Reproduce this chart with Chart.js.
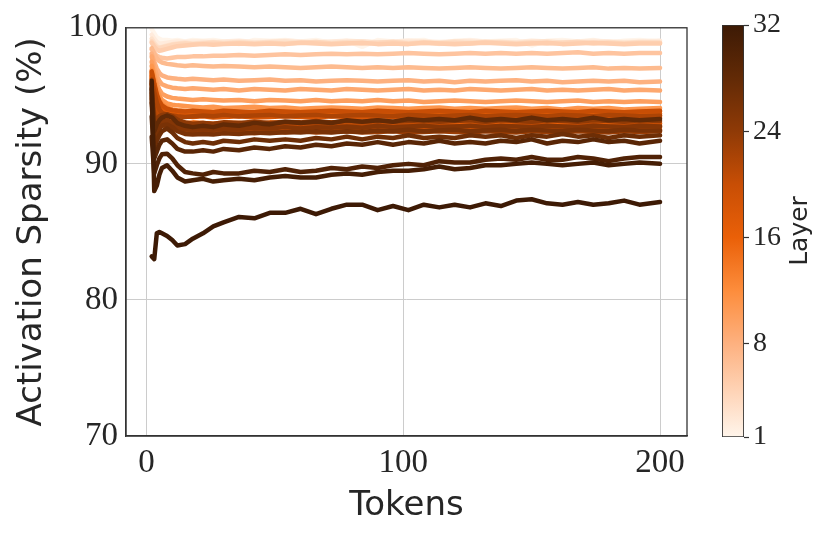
<!DOCTYPE html>
<html>
<head>
<meta charset="utf-8">
<script src="https://cdn.jsdelivr.net/npm/chart.js@4.4.1/dist/chart.umd.min.js"></script>
<style>
  html, body { margin: 0; padding: 0; background: #fff; }
  #wrap { position: relative; width: 830px; height: 541px; }
  #main { position: absolute; left: 0; top: 0; }
  #cbar { position: absolute; left: 690px; top: 0; }
</style>
</head>
<body>
<div id="wrap">
  <canvas id="main" width="830" height="541"></canvas>
  <canvas id="cbar" width="140" height="541"></canvas>
</div>
<script>
const tokens = [2,3,4,5,6,8,10,12,15,18,22,26,30,36,42,48,54,60,66,72,78,84,90,96,102,108,114,120,126,132,138,144,150,156,162,168,174,180,186,192,200];

// activation sparsity (%) per layer
const L1 = [99.9,99.6,99.3,99.2,99.1,99.1,99.05,99.1,99.0,99.1, 99.05,99.1,99.0,98.8,99.1,99.05,99.1,99.0,99.1,98.9, 99.05,98.6,99.1,99.0,99.05,99.1,98.8,99.05,99.1,99.0, 99.05,99.1,98.7,99.05,99.1,99.0,99.1,98.9,99.05,99.1, 99.0];
const L2 = [99.5,99.2,98.95,98.85,98.85,98.9,98.95,99.0,98.95,99.0, 99.0,98.95,99.0,99.05,98.95,99.0,99.05,99.0,98.95,99.0, 99.05,99.0,98.95,99.0,99.05,99.0,98.95,99.0,99.05,99.0, 99.0,98.95,99.05,99.0,98.95,99.0,99.05,99.0,98.95,99.0, 99.05];
const L3 = [99.2,98.9,98.65,98.55,98.6,98.7,98.8,98.85,98.9,98.85, 98.9,98.95,98.9,98.95,98.9,98.95,99.0,98.9,98.95,98.9, 98.95,99.0,98.9,98.95,98.9,98.95,98.9,99.0,98.95,98.9, 98.95,98.9,98.95,99.0,98.9,98.95,98.9,98.95,98.9,98.95, 98.9];
const L4 = [99.0,98.75,98.55,98.5,98.55,98.65,98.75,98.8,98.85,98.8, 98.85,98.9,98.85,98.9,98.85,98.9,98.85,98.9,98.95,98.85, 98.9,98.85,98.9,98.95,98.85,98.9,98.85,98.9,98.85,98.95, 98.9,98.85,98.9,98.85,98.9,98.95,98.85,98.9,98.85,98.9, 98.9];
const L5 = [98.9,98.6,98.4,98.3,98.35,98.45,98.55,98.65,98.7,98.75, 98.8,98.75,98.8,98.85,98.8,98.85,98.8,98.9,98.85,98.8, 98.85,98.9,98.8,98.85,98.8,98.9,98.85,98.8,98.85,98.9, 98.85,98.8,98.85,98.9,98.8,98.85,98.9,98.85,98.8,98.85, 98.85];
const L6 = [98.4,98.15,97.95,97.85,97.8,97.75,97.8,97.85,97.85,97.9, 97.9,97.95,97.95,98.0,97.95,98.0,98.05,98.0,98.05,98.1, 98.05,98.1,98.05,98.1,98.15,98.1,98.05,98.1,98.15,98.1, 98.15,98.1,98.15,98.1,98.15,98.2,98.1,98.15,98.1,98.15, 98.15];
const L7 = [98.5,98.1,97.75,97.55,97.45,97.35,97.3,97.25,97.2,97.25, 97.2,97.15,97.2,97.15,97.1,97.15,97.1,97.05,97.1,97.15, 97.1,97.05,97.1,97.05,97.1,97.05,97.0,97.05,97.1,97.05, 97.0,97.05,97.1,97.05,97.0,97.05,97.1,97.0,97.05,97.0, 97.05];
const L8 = [98.1,97.5,97.0,96.7,96.5,96.35,96.3,96.25,96.2,96.25, 96.2,96.15,96.2,96.1,96.15,96.2,96.1,96.15,96.05,96.1, 96.15,96.1,96.05,96.1,96.15,96.05,96.1,96.0,96.1,96.05, 96.1,96.15,96.05,96.1,96.0,96.05,96.1,96.05,96.1,96.0, 96.05];
const L9 = [97.9,97.1,96.5,96.1,95.85,95.7,95.6,95.55,95.5,95.55, 95.5,95.45,95.5,95.4,95.5,95.45,95.4,95.5,95.45,95.4, 95.5,95.45,95.4,95.45,95.5,95.4,95.45,95.4,95.5,95.45, 95.4,95.45,95.5,95.4,95.45,95.4,95.45,95.5,95.4,95.45, 95.4];
const L10 = [97.5,96.6,95.9,95.45,95.15,94.95,94.85,94.8,94.75,94.7, 94.75,94.7,94.65,94.7,94.6,94.7,94.65,94.6,94.7,94.6, 94.65,94.6,94.7,94.6,94.65,94.55,94.6,94.65,94.6,94.55, 94.6,94.65,94.6,94.55,94.6,94.65,94.55,94.6,94.55,94.6, 94.55];
const L11 = [97.2,96.3,95.5,95.0,94.7,94.45,94.35,94.3,94.25,94.2, 94.15,94.2,94.1,94.15,94.2,94.1,94.15,94.05,94.1,94.15, 94.1,94.05,94.15,94.1,94.05,94.1,94.15,94.05,94.1,94.05, 94.1,94.15,94.05,94.1,94.0,94.1,94.05,94.1,94.0,94.05, 94.1];
const L12 = [96.9,96.0,95.2,94.7,94.4,94.15,94.0,93.95,93.9,93.85, 93.9,93.85,93.9,93.8,93.85,93.9,93.8,93.85,93.9,93.85, 93.8,93.9,93.85,93.8,93.9,93.85,93.8,93.85,93.9,93.8, 93.85,93.9,93.85,93.8,93.85,93.9,93.8,93.85,93.8,93.9, 93.85];
const L13 = [96.6,95.7,94.9,94.4,94.1,93.85,93.75,93.7,93.6,93.65, 93.6,93.55,93.65,93.6,93.55,93.6,93.65,93.55,93.6,93.65, 93.6,93.55,93.6,93.65,93.6,93.55,93.6,93.65,93.55,93.6, 93.6,93.55,93.65,93.6,93.55,93.6,93.65,93.6,93.55,93.6, 93.6];
const L14 = [96.3,95.3,94.4,93.9,93.55,93.3,93.15,93.1,93.0,93.05, 93.0,92.95,93.05,93.0,92.95,93.05,93.0,92.95,93.0,93.05, 92.95,93.0,93.05,93.0,92.95,93.0,93.05,92.95,93.0,93.05, 93.0,92.95,93.0,93.05,93.0,92.95,93.0,93.05,92.95,93.0, 93.0];
const L15 = [96.0,95.0,94.1,93.6,93.2,92.95,92.85,92.8,92.7,92.75, 92.7,92.65,92.75,92.7,92.65,92.7,92.75,92.65,92.7,92.75, 92.7,92.65,92.7,92.75,92.7,92.65,92.7,92.75,92.65,92.7, 92.75,92.7,92.65,92.7,92.75,92.7,92.65,92.7,92.75,92.7, 92.7];
const L16 = [96.4,95.4,94.5,94.0,93.6,93.3,93.15,93.05,93.0,92.95, 93.0,92.9,92.95,93.0,92.9,92.95,93.0,92.95,92.9,93.0, 92.95,92.9,92.95,93.0,92.95,92.9,93.0,92.95,92.9,92.95, 93.0,92.9,92.95,93.0,92.95,92.9,92.95,93.0,92.9,92.95, 92.95];
const L17 = [96.7,95.8,95.0,94.5,94.2,93.95,93.85,93.8,93.75,93.7, 93.75,93.7,93.65,93.75,93.7,93.65,93.7,93.75,93.7,93.65, 93.7,93.75,93.7,93.65,93.7,93.75,93.65,93.7,93.75,93.7, 93.65,93.7,93.75,93.7,93.65,93.7,93.75,93.7,93.65,93.7, 93.7];
const L18 = [96.5,95.6,94.8,94.3,93.95,93.7,93.6,93.55,93.5,93.45, 93.5,93.4,93.45,93.5,93.4,93.45,93.5,93.45,93.4,93.5, 93.45,93.4,93.5,93.45,93.4,93.45,93.5,93.4,93.45,93.5, 93.45,93.4,93.45,93.5,93.4,93.45,93.5,93.45,93.4,93.45, 93.45];
const L19 = [95.8,94.8,93.9,93.4,93.0,92.75,92.6,92.55,92.5,92.45, 92.5,92.45,92.55,92.5,92.45,92.5,92.55,92.45,92.5,92.55, 92.5,92.45,92.5,92.55,92.5,92.45,92.5,92.55,92.45,92.5, 92.55,92.5,92.45,92.5,92.55,92.5,92.45,92.5,92.55,92.5, 92.5];
const L20 = [96.8,95.9,95.1,94.6,94.3,94.05,93.95,93.9,93.85,93.9, 93.85,93.8,93.9,93.85,93.8,93.9,93.85,93.8,93.85,93.9, 93.85,93.8,93.9,93.85,93.8,93.85,93.9,93.85,93.8,93.9, 93.85,93.8,93.85,93.9,93.85,93.8,93.9,93.85,93.8,93.85, 93.9];
const L21 = [95.9,94.9,94.0,93.5,93.15,92.95,92.85,92.8,92.75,92.8, 92.75,92.8,92.85,92.75,92.8,92.85,92.75,92.8,92.85,92.8, 92.75,92.8,92.85,92.75,92.8,92.85,92.8,92.75,92.8,92.85, 92.75,92.8,92.85,92.8,92.75,92.8,92.85,92.75,92.8,92.85, 92.8];
const L22 = [96.2,95.3,94.5,94.0,93.75,93.6,93.55,93.5,93.45,93.5, 93.55,93.5,93.6,93.5,93.55,93.6,93.5,93.55,93.6,93.5, 93.55,93.6,93.55,93.5,93.6,93.55,93.5,93.55,93.6,93.5, 93.55,93.6,93.55,93.5,93.6,93.55,93.5,93.6,93.55,93.5, 93.55];
const L23 = [95.2,93.6,93.2,93.0,92.85,92.75,92.6,92.45,92.3,92.25, 92.3,92.25,92.35,92.3,92.25,92.35,92.3,92.4,92.3,92.35, 92.4,92.3,92.35,92.4,92.3,92.35,92.4,92.35,92.3,92.4, 92.35,92.3,92.4,92.35,92.3,92.4,92.35,92.3,92.4,92.35, 92.4];
const L24 = [95.6,93.0,93.3,93.5,93.6,93.65,93.5,93.25,93.05,92.95, 93.0,92.95,93.05,93.0,93.1,93.0,93.1,93.05,93.15,93.05, 93.15,93.1,93.2,93.1,93.15,93.2,93.1,93.15,93.2,93.1, 93.2,93.15,93.1,93.2,93.15,93.1,93.2,93.15,93.1,93.2, 93.15];
const L25 = [95.0,92.2,92.6,92.9,93.1,93.2,93.0,92.75,92.55,92.5, 92.55,92.5,92.6,92.55,92.65,92.6,92.7,92.6,92.7,92.65, 92.75,92.65,92.8,92.7,92.75,92.8,92.7,92.75,92.8,92.7, 92.8,92.75,92.7,92.8,92.75,92.7,92.8,92.75,92.7,92.8, 92.75];
const L26 = [94.8,91.8,92.2,92.6,92.8,92.9,92.7,92.4,92.2,92.15, 92.2,92.15,92.25,92.2,92.3,92.25,92.35,92.3,92.4,92.3, 92.4,92.35,92.45,92.4,92.5,92.4,92.45,92.5,92.4,92.45, 92.5,92.4,92.5,92.45,92.4,92.5,92.45,92.4,92.5,92.45, 92.45];
const L27 = [94.5,91.2,91.7,92.1,92.4,92.6,92.3,91.9,91.6,91.5, 91.6,91.5,91.7,91.6,91.8,91.7,91.8,91.7,91.9,91.8, 92.0,91.8,92.0,91.9,92.1,91.9,92.0,91.9,92.1,92.0, 92.1,91.9,92.1,92.0,92.2,92.0,92.1,91.9,92.1,92.0, 92.1];
const L28 = [95.5,92.4,92.9,93.2,93.4,93.55,93.4,93.0,92.8,92.7, 92.8,92.7,92.9,92.8,93.0,92.9,93.1,93.0,93.1,93.0, 93.2,93.1,93.2,93.1,93.3,93.2,93.3,93.2,93.4,93.2, 93.3,93.2,93.4,93.2,93.3,93.2,93.4,93.2,93.3,93.2, 93.3];
const L29 = [93.5,90.4,90.9,91.4,91.7,91.8,91.5,91.1,90.9,90.9, 91.0,90.9,91.1,91.0,91.2,91.1,91.3,91.2,91.4,91.3, 91.5,91.4,91.6,91.4,91.6,91.5,91.7,91.5,91.6,91.5, 91.7,91.6,91.8,91.5,91.7,91.6,91.8,91.6,91.7,91.5, 91.7];
const L30 = [92.0,89.3,89.9,90.4,90.7,90.75,90.4,89.9,89.4,89.3, 89.2,89.4,89.3,89.3,89.5,89.4,89.6,89.4,89.5,89.7, 89.6,89.8,89.7,89.9,90.0,89.9,90.2,90.1,90.1,90.3, 90.4,90.3,90.5,90.3,90.3,90.5,90.4,90.2,90.4,90.5, 90.5];
const L31 = [96.1,88.0,88.4,89.2,89.7,89.9,89.5,89.0,88.7,88.8, 88.9,88.7,88.8,88.9,88.8,89.0,89.1,89.0,89.0,89.2, 89.3,89.2,89.4,89.5,89.5,89.6,89.8,89.6,89.7,89.9, 89.9,90.0,90.1,90.0,89.9,90.0,90.1,89.9,90.0,90.1, 90.0];
const L32 = [83.2,83.0,84.9,85.0,84.9,84.7,84.4,84.0,84.1,84.5, 84.9,85.4,85.7,86.1,86.0,86.4,86.4,86.7,86.3,86.7, 87.0,87.0,86.6,86.9,86.6,87.0,86.8,87.0,86.8,87.1, 86.9,87.3,87.4,87.1,87.0,87.2,87.0,87.1,87.3,87.0, 87.2];

const layers = [L1,L2,L3,L4,L5,L6,L7,L8,L9,L10,L11,L12,L13,L14,L15,L16,L17,L18,L19,L20,L21,L22,L23,L24,L25,L26,L27,L28,L29,L30,L31,L32];

const xTicks = [0, 100, 200];
const yTicks = [70, 80, 90, 100];
const layerTicks = [1, 8, 16, 24, 32];

// colormap (light -> orange -> dark brown)
const cmapStops = [
  [0.0,   [255,245,235]],
  [0.226, [253,177,128]],
  [0.355, [253,141,60]],
  [0.484, [234,96,8]],
  [0.613, [200,78,5]],
  [0.742, [143,58,6]],
  [0.871, [98,42,6]],
  [1.0,   [61,26,5]]
];
const cmap = (t) => {
  for (let i = 1; i < cmapStops.length; i++) {
    const [t1, c1] = cmapStops[i];
    const [t0, c0] = cmapStops[i - 1];
    if (t <= t1) {
      const f = (t - t0) / (t1 - t0);
      const c = c0.map((v, k) => Math.round(v + (c1[k] - v) * f));
      return `rgb(${c[0]},${c[1]},${c[2]})`;
    }
  }
  return 'rgb(61,26,5)';
};

const textColor = '#262626';
const serif = "'Liberation Serif', 'DejaVu Serif', serif";
const sans = "'DejaVu Sans', sans-serif";

//top and right spines
const frame = {
  id: 'frame',
  afterDraw(chart) {
    const {ctx, chartArea: a} = chart;
    ctx.save();
    ctx.strokeStyle = '#333';
    ctx.lineWidth = 1.3;
    ctx.strokeRect(a.left, a.top, a.right - a.left, a.bottom - a.top);
    ctx.restore();
  }
};

const datasets = layers.map((vals, i) => ({
  label: 'Layer ' + (i + 1),
  data: vals.map((v, j) => ({x: tokens[j], y: v})),
  borderColor: cmap(i / 31),
  borderWidth: 4.5,
  pointRadius: 0,
  tension: 0,
  borderJoinStyle: 'round',
  borderCapStyle: 'round',
  order: 32 - i
}));

new Chart(document.getElementById('main'), {
  type: 'line',
  data: { datasets },
  options: {
    responsive: false,
    animation: false,
    layout: { padding: { top: 25, right: 143, bottom: 0, left: 0 } },
    plugins: { legend: { display: false }, tooltip: { enabled: false } },
    scales: {
      x: {
        type: 'linear', min: -8, max: 210.5,
        afterBuildTicks: (s) => { s.ticks = xTicks.map(v => ({value: v})); },
        afterFit: (s) => { s.height = 105; },
        grid: { color: '#cccccc', lineWidth: 1, drawTicks: false },
        border: { display: true, color: '#333', width: 1.3 },
        ticks: { color: textColor, font: { family: serif, size: 33 }, padding: 8, maxRotation: 0 },
        title: { display: true, text: 'Tokens', color: textColor, font: { family: sans, size: 34 }, padding: { top: 0, bottom: 14 } }
      },
      y: {
        type: 'linear', min: 70, max: 100,
        afterBuildTicks: (s) => { s.ticks = yTicks.map(v => ({value: v})); },
        afterFit: (s) => { s.width = 126; },
        grid: { color: '#cccccc', lineWidth: 1, drawTicks: false },
        border: { display: true, color: '#333', width: 1.3 },
        ticks: { color: textColor, font: { family: serif, size: 33 }, padding: 8 },
        title: { display: true, text: 'Activation Sparsity (%)', color: textColor, font: { family: sans, size: 34 }, padding: { top: 12, bottom: 0 } }
      }
    }
  },
  plugins: [frame]
});

// colorbar
const layerTitle = {
  id: 'layerTitle',
  afterDraw(chart) {
    const {ctx, chartArea: a} = chart;
    ctx.save();
    ctx.translate(110, (a.top + a.bottom) / 2);
    ctx.rotate(-Math.PI / 2);
    ctx.fillStyle = textColor;
    ctx.font = "25px " + sans;
    ctx.textAlign = 'center';
    ctx.textBaseline = 'middle';
    ctx.fillText('Layer', 0, 0);
    ctx.restore();
  }
};

new Chart(document.getElementById('cbar'), {
  type: 'bar',
  data: {
    labels: ['Layer'],
    datasets: [{
      data: [[1, 32]],
      backgroundColor: (c) => {
        const a = c.chart.chartArea;
        if (!a) return '#e6550d';
        const g = c.chart.ctx.createLinearGradient(0, a.bottom, 0, a.top);
        cmapStops.forEach(([t, col]) => g.addColorStop(t, `rgb(${col[0]},${col[1]},${col[2]})`));
        return g;
      },
      borderColor: '#333',
      borderWidth: 1.2,
      borderSkipped: false,
      barPercentage: 1,
      categoryPercentage: 1
    }]
  },
  options: {
    responsive: false,
    animation: false,
    layout: { padding: { top: 25, left: 32, bottom: 104, right: 0 } },
    plugins: { legend: { display: false }, tooltip: { enabled: false } },
    scales: {
      x: { display: false },
      y: {
        position: 'right', min: 1, max: 32,
        afterBuildTicks: (s) => { s.ticks = layerTicks.map(v => ({value: v})); },
        afterFit: (s) => { s.width = 86; },
        grid: { drawOnChartArea: false, drawTicks: true, tickLength: 5, tickColor: '#333', tickWidth: 1.2 },
        border: { display: false },
        ticks: { color: textColor, font: { family: serif, size: 28 }, padding: 4 }
      }
    }
  },
  plugins: [layerTitle]
});
</script>
</body>
</html>
